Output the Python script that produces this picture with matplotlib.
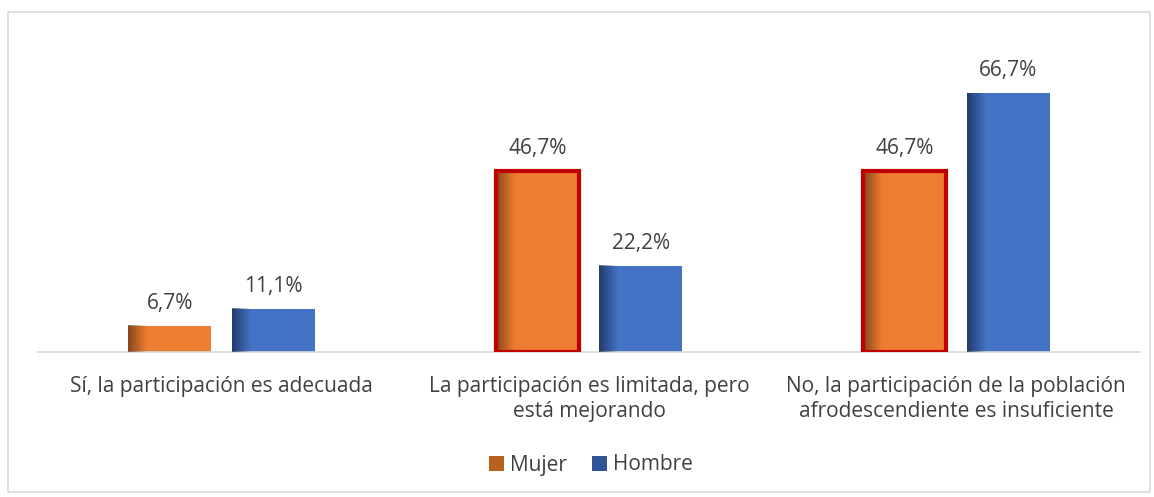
import numpy as np
import matplotlib
matplotlib.use("Agg")
import matplotlib.pyplot as plt
from matplotlib.patches import Rectangle, Patch
from matplotlib.colors import LinearSegmentedColormap

categories = [
    "Sí, la participación es adecuada",
    "La participación es limitada, pero\nestá mejorando",
    "No, la participación de la población\nafrodescendiente es insuficiente",
]
mujer = [6.7, 46.7, 46.7]
hombre = [11.1, 22.2, 66.7]
series_names = ["Mujer", "Hombre"]
highlighted = [False, True, True]  # red outline on the Mujer bar

plt.rcParams["font.family"] = ["Open Sans", "DejaVu Sans"]
text_color = "#404040"
orange = "#ED7D31"
blue = "#4472C4"
fs = 15

fig = plt.figure(figsize=(11.54, 4.97), dpi=100)
ax = fig.add_axes([38 / 1154, 145 / 497, 1102 / 1154, 332 / 497])

x = np.arange(len(categories))
width = 0.226
offset = 0.141

bars_m = ax.bar(x - offset, mujer, width, color=orange, zorder=2)
bars_h = ax.bar(x + offset, hombre, width, color=blue, zorder=2)


def shade(bar, dark):
    # dark strip fading to the right, like the bevel in the original
    x0 = bar.get_x()
    h = bar.get_height()
    w = bar.get_width() * 0.22
    cmap = LinearSegmentedColormap.from_list("s", [(*dark, 0.7), (*dark, 0.0)])
    grad = np.linspace(0, 1, 64).reshape(1, -1)
    ax.imshow(grad, cmap=cmap, extent=[x0, x0 + w, 0, h], aspect="auto",
              zorder=3, interpolation="bilinear")


for b in bars_m:
    shade(b, (0.35, 0.18, 0.08))
for b in bars_h:
    shade(b, (0.08, 0.14, 0.28))

for b, hl in zip(bars_m, highlighted):
    if hl:
        ax.add_patch(Rectangle((b.get_x(), 0), b.get_width(), b.get_height(),
                               fill=False, edgecolor="#C00000", linewidth=3, zorder=4))

for bars in (bars_m, bars_h):
    for b in bars:
        ax.text(b.get_x() + b.get_width() / 2, b.get_height() + 3.0,
                f"{b.get_height():.1f}%".replace(".", ","),
                ha="center", va="bottom", fontsize=fs, color=text_color)

ax.set_xlim(-0.5, 2.5)
ax.set_ylim(0, 85.5)
ax.set_xticks(x)
ax.set_xticklabels(categories, fontsize=fs, color=text_color, linespacing=1.3)
ax.tick_params(axis="x", length=0, pad=17)
ax.set_yticks([])
for s in ["top", "right", "left"]:
    ax.spines[s].set_visible(False)
ax.spines["bottom"].set_color("#D9D9D9")
ax.spines["bottom"].set_linewidth(1.2)

handles = [Patch(facecolor="#B8611F"), Patch(facecolor="#2F5597")]
fig.legend(handles, series_names, loc="center", bbox_to_anchor=(591 / 1154, 1 - 465 / 497),
           ncol=2, frameon=False, fontsize=fs, labelcolor=text_color,
           handlelength=0.7, handleheight=0.7, handletextpad=0.3, columnspacing=1.2)

fig.patches.append(Rectangle((8 / 1154, 1 - 492 / 497), 1142 / 1154, 480 / 497,
                             transform=fig.transFigure, fill=False,
                             edgecolor="#D9D9D9", linewidth=1.2))

fig.savefig("out.png", dpi=100)
